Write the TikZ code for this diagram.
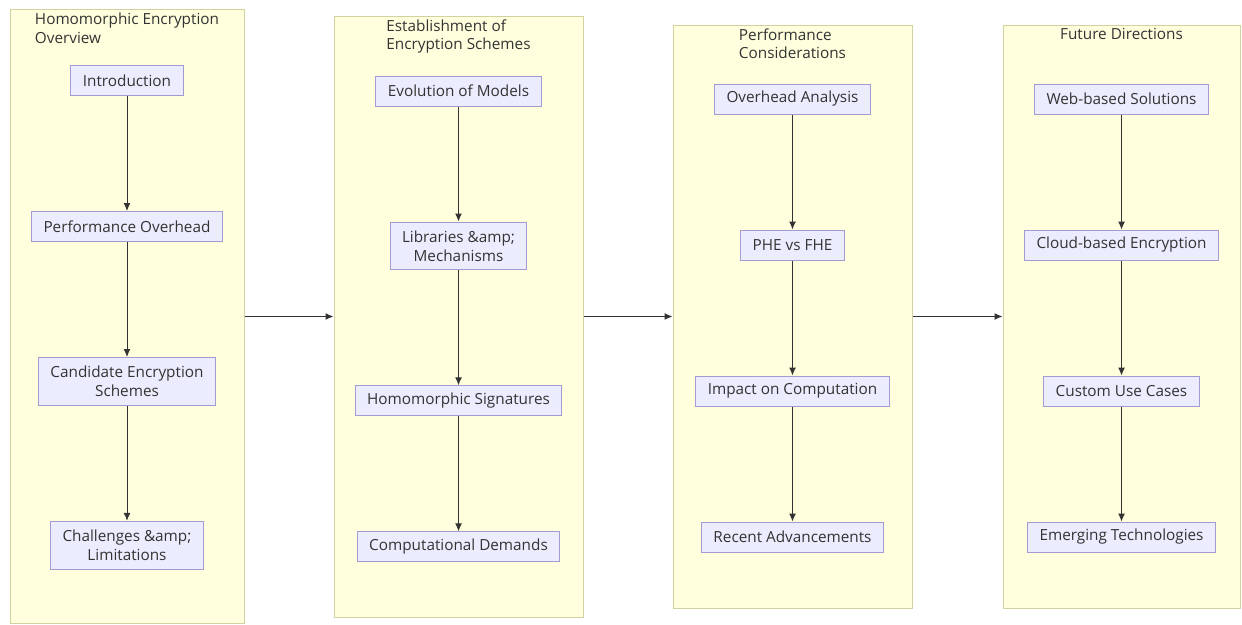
\documentclass[tikz,border=0pt]{standalone}
\usepackage{fontspec}
\setmainfont{Open Sans}
\usepackage{tikz}
\usetikzlibrary{arrows.meta,positioning}
\definecolor{Ink}{HTML}{333333}
\definecolor{ClusterFill}{HTML}{FFFFDE}
\definecolor{ClusterLine}{HTML}{D2D2A0}
\definecolor{BoxFill}{HTML}{ECECFF}
\definecolor{BoxLine}{HTML}{A39BD2}

\begin{document}
\begin{tikzpicture}[x=1pt,y=-1pt,
    cluster/.style={rectangle,draw=ClusterLine,fill=ClusterFill,line width=1pt,inner sep=0pt},
    title/.style={align=left,font=\fontsize{15.3}{18.5}\selectfont,text=Ink,inner sep=0pt},
    box/.style={rectangle,draw=BoxLine,fill=BoxFill,line width=1pt,align=center,inner xsep=12pt,inner ysep=7pt,minimum height=30pt,font=\fontsize{15.3}{19}\selectfont,text=Ink},
    tallbox/.style={box,inner ysep=8.5pt},
    arrow/.style={-{Latex[length=8pt,width=7pt]},line width=1pt,draw=Ink},
    node distance=115pt
]
\useasboundingbox (0,0) rectangle (1242,624);
\node[cluster,minimum width=234pt,minimum height=614pt] (c1) at (127,316.5) {};
\node[cluster,minimum width=249pt,minimum height=601pt] (c2) at (458.5,316.5) {};
\node[cluster,minimum width=239pt,minimum height=583pt] (c3) at (792.5,316.5) {};
\node[cluster,minimum width=237pt,minimum height=583pt] (c4) at (1121.5,316.5) {};
\node[title,below=4pt of c1.north] (t1) {Homomorphic Encryption\\Overview};
\node[title,below=4pt of c2.north] (t2) {Establishment of\\Encryption Schemes};
\node[title,below=4pt of c3.north] (t3) {Performance\\Considerations};
\node[title,below=4pt of c4.north] (t4) {Future Directions};

\node[box] (intro) at (127,80.5) {Introduction};
\node[box,below=of intro] (perf) {Performance Overhead};
\node[tallbox,below=of perf] (cand) {Candidate Encryption\\Schemes};
\node[tallbox,below=of cand] (chal) {Challenges \&amp;\\Limitations};

\node[box] (evol) at (458.5,91) {Evolution of Models};
\node[tallbox,below=of evol] (libs) {Libraries \&amp;\\Mechanisms};
\node[box,below=of libs] (sig) {Homomorphic Signatures};
\node[box,below=of sig] (comp) {Computational Demands};

\node[box] (over) at (792.5,99) {Overhead Analysis};
\node[box,below=of over] (phe) {PHE vs FHE};
\node[box,below=of phe] (impact) {Impact on Computation};
\node[box,below=of impact] (recent) {Recent Advancements};

\node[box] (web) at (1121.5,99) {Web-based Solutions};
\node[box,below=of web] (cloud) {Cloud-based Encryption};
\node[box,below=of cloud] (custom) {Custom Use Cases};
\node[box,below=of custom] (emerg) {Emerging Technologies};

\draw[arrow] (intro) -- (perf);
\draw[arrow] (perf) -- (cand);
\draw[arrow] (cand) -- (chal);
\draw[arrow] (evol) -- (libs);
\draw[arrow] (libs) -- (sig);
\draw[arrow] (sig) -- (comp);
\draw[arrow] (over) -- (phe);
\draw[arrow] (phe) -- (impact);
\draw[arrow] (impact) -- (recent);
\draw[arrow] (web) -- (cloud);
\draw[arrow] (cloud) -- (custom);
\draw[arrow] (custom) -- (emerg);
\draw[arrow] (c1) -- (c2);
\draw[arrow] (c2) -- (c3);
\draw[arrow] (c3) -- (c4);
\end{tikzpicture}
\end{document}
